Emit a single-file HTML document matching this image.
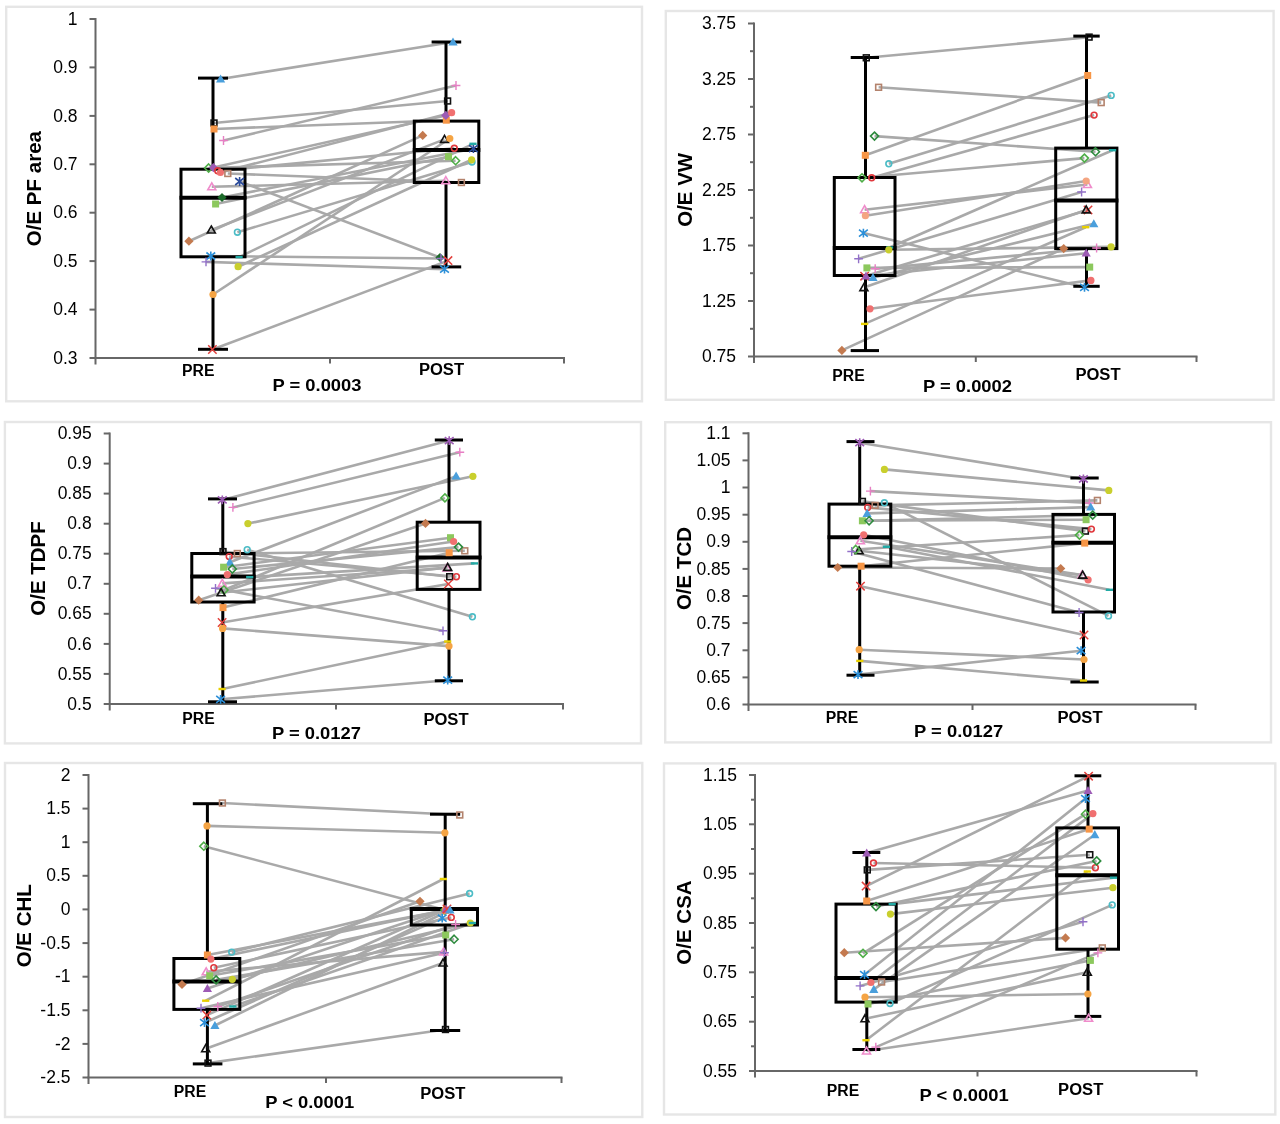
<!DOCTYPE html>
<html><head><meta charset="utf-8"><title>Box plots</title>
<style>
html,body{margin:0;padding:0;background:#fff;}
body{width:1280px;height:1124px;overflow:hidden;}
svg{display:block;will-change:transform;}
.tk{font-family:"Liberation Sans", Arial, sans-serif;font-size:17.5px;fill:#000;}
.cat{font-family:"Liberation Sans", Arial, sans-serif;font-size:16.8px;font-weight:bold;fill:#000;}
.pv{font-family:"Liberation Sans", Arial, sans-serif;font-size:17px;font-weight:bold;fill:#000;}
.ttl{font-family:"Liberation Sans", Arial, sans-serif;font-size:20.5px;font-weight:bold;fill:#000;}
</style></head><body>
<svg width="1280" height="1124" viewBox="0 0 1280 1124">
<rect x="0" y="0" width="1280" height="1124" fill="#fff"/>
<rect x="6.2" y="6.8" width="635.8" height="394.5" fill="#fff" stroke="#e6e6e6" stroke-width="2.4"/>
<line x1="89.5" y1="358.0" x2="95.5" y2="358.0" stroke="#676767" stroke-width="2"/>
<text x="77.5" y="363.6" class="tk" text-anchor="end">0.3</text>
<line x1="89.5" y1="309.6" x2="95.5" y2="309.6" stroke="#676767" stroke-width="2"/>
<text x="77.5" y="315.2" class="tk" text-anchor="end">0.4</text>
<line x1="89.5" y1="261.1" x2="95.5" y2="261.1" stroke="#676767" stroke-width="2"/>
<text x="77.5" y="266.7" class="tk" text-anchor="end">0.5</text>
<line x1="89.5" y1="212.7" x2="95.5" y2="212.7" stroke="#676767" stroke-width="2"/>
<text x="77.5" y="218.3" class="tk" text-anchor="end">0.6</text>
<line x1="89.5" y1="164.3" x2="95.5" y2="164.3" stroke="#676767" stroke-width="2"/>
<text x="77.5" y="169.9" class="tk" text-anchor="end">0.7</text>
<line x1="89.5" y1="115.9" x2="95.5" y2="115.9" stroke="#676767" stroke-width="2"/>
<text x="77.5" y="121.5" class="tk" text-anchor="end">0.8</text>
<line x1="89.5" y1="67.4" x2="95.5" y2="67.4" stroke="#676767" stroke-width="2"/>
<text x="77.5" y="73.0" class="tk" text-anchor="end">0.9</text>
<line x1="89.5" y1="19.0" x2="95.5" y2="19.0" stroke="#676767" stroke-width="2"/>
<text x="77.5" y="24.6" class="tk" text-anchor="end">1</text>
<line x1="95.5" y1="18" x2="95.5" y2="364.5" stroke="#676767" stroke-width="2"/>
<line x1="94.5" y1="358" x2="565" y2="358" stroke="#676767" stroke-width="2"/>
<line x1="330" y1="358" x2="330" y2="363.5" stroke="#676767" stroke-width="2"/>
<line x1="564" y1="358" x2="564" y2="363.5" stroke="#676767" stroke-width="2"/>
<line x1="220.6" y1="79" x2="453" y2="42" stroke="#a9a9a9" stroke-width="2.6"/>
<line x1="214" y1="123" x2="447.6" y2="101" stroke="#a9a9a9" stroke-width="2.6"/>
<line x1="214" y1="129" x2="446.3" y2="120.2" stroke="#a9a9a9" stroke-width="2.6"/>
<line x1="223.5" y1="140.5" x2="456" y2="85.5" stroke="#a9a9a9" stroke-width="2.6"/>
<line x1="208.6" y1="168" x2="455.6" y2="160.7" stroke="#a9a9a9" stroke-width="2.6"/>
<line x1="213.4" y1="167.6" x2="445.8" y2="115.4" stroke="#a9a9a9" stroke-width="2.6"/>
<line x1="217.7" y1="170.8" x2="454.3" y2="148.3" stroke="#a9a9a9" stroke-width="2.6"/>
<line x1="220.4" y1="172.4" x2="451.6" y2="112.7" stroke="#a9a9a9" stroke-width="2.6"/>
<line x1="227.8" y1="173.5" x2="461.4" y2="182.5" stroke="#a9a9a9" stroke-width="2.6"/>
<line x1="239.6" y1="181.5" x2="440" y2="257.5" stroke="#a9a9a9" stroke-width="2.6"/>
<line x1="211.8" y1="186.8" x2="445.8" y2="180.7" stroke="#a9a9a9" stroke-width="2.6"/>
<line x1="222" y1="197.5" x2="473.4" y2="148.7" stroke="#a9a9a9" stroke-width="2.6"/>
<line x1="215.6" y1="204" x2="448.5" y2="156.7" stroke="#a9a9a9" stroke-width="2.6"/>
<line x1="211.3" y1="230" x2="444.5" y2="139.4" stroke="#a9a9a9" stroke-width="2.6"/>
<line x1="237.4" y1="232.2" x2="472" y2="162" stroke="#a9a9a9" stroke-width="2.6"/>
<line x1="188.9" y1="241.2" x2="422.7" y2="135.4" stroke="#a9a9a9" stroke-width="2.6"/>
<line x1="210.8" y1="256" x2="441" y2="258.5" stroke="#a9a9a9" stroke-width="2.6"/>
<line x1="206" y1="261.9" x2="444.5" y2="269.2" stroke="#a9a9a9" stroke-width="2.6"/>
<line x1="239.1" y1="257.1" x2="473" y2="143.8" stroke="#a9a9a9" stroke-width="2.6"/>
<line x1="238.1" y1="266.7" x2="471.6" y2="159.8" stroke="#a9a9a9" stroke-width="2.6"/>
<line x1="213" y1="294.5" x2="449.8" y2="138.5" stroke="#a9a9a9" stroke-width="2.6"/>
<line x1="212.4" y1="349.5" x2="448" y2="260.6" stroke="#a9a9a9" stroke-width="2.6"/>
<line x1="213" y1="78.1" x2="213" y2="169.2" stroke="#000" stroke-width="3"/>
<line x1="213" y1="256.8" x2="213" y2="349.3" stroke="#000" stroke-width="3"/>
<line x1="198" y1="78.1" x2="228" y2="78.1" stroke="#000" stroke-width="3"/>
<line x1="198" y1="349.3" x2="228" y2="349.3" stroke="#000" stroke-width="3"/>
<rect x="181" y="169.2" width="64" height="87.60000000000002" fill="none" stroke="#000" stroke-width="3"/>
<line x1="179.5" y1="197.7" x2="246.5" y2="197.7" stroke="#000" stroke-width="4"/>
<line x1="446" y1="42" x2="446" y2="121.1" stroke="#000" stroke-width="3"/>
<line x1="446" y1="182.5" x2="446" y2="266.9" stroke="#000" stroke-width="3"/>
<line x1="431.6" y1="42" x2="461.2" y2="42" stroke="#000" stroke-width="3"/>
<line x1="431.6" y1="266.9" x2="461.2" y2="266.9" stroke="#000" stroke-width="3"/>
<rect x="414.3" y="121.1" width="64.5" height="61.400000000000006" fill="none" stroke="#000" stroke-width="3"/>
<line x1="412.8" y1="150" x2="480.3" y2="150" stroke="#000" stroke-width="4"/>
<path d="M220.6 74.4L225.2 82.5L216.0 82.5Z" fill="#4a9fdc"/>
<path d="M453.0 37.4L457.6 45.5L448.4 45.5Z" fill="#4a9fdc"/>
<rect x="211.1" y="120.1" width="5.8" height="5.8" fill="none" stroke="#111111" stroke-width="1.6"/>
<rect x="444.7" y="98.1" width="5.8" height="5.8" fill="none" stroke="#111111" stroke-width="1.6"/>
<rect x="210.5" y="125.5" width="7.0" height="7.0" fill="#f79646"/>
<rect x="442.8" y="116.7" width="7.0" height="7.0" fill="#f79646"/>
<path d="M219.1 140.5L227.9 140.5M223.5 136.1L223.5 144.9" stroke="#e77fc4" stroke-width="1.4" fill="none"/>
<path d="M451.6 85.5L460.4 85.5M456.0 81.1L456.0 89.9" stroke="#e77fc4" stroke-width="1.4" fill="none"/>
<path d="M208.6 164.0L212.6 168.0L208.6 172.0L204.6 168.0Z" fill="none" stroke="#4fae48" stroke-width="1.6"/>
<path d="M455.6 156.7L459.6 160.7L455.6 164.7L451.6 160.7Z" fill="none" stroke="#4fae48" stroke-width="1.6"/>
<path d="M213.4 163.0L218.0 167.6L213.4 172.2L208.8 167.6Z" fill="#9d5bb5"/>
<path d="M445.8 110.8L450.4 115.4L445.8 120.0L441.2 115.4Z" fill="#9d5bb5"/>
<circle cx="217.7" cy="170.8" r="2.9" fill="none" stroke="#e0383d" stroke-width="1.6"/>
<circle cx="454.3" cy="148.3" r="2.9" fill="none" stroke="#e0383d" stroke-width="1.6"/>
<circle cx="220.4" cy="172.4" r="3.6" fill="#f07070"/>
<circle cx="451.6" cy="112.7" r="3.6" fill="#f07070"/>
<rect x="224.9" y="170.6" width="5.8" height="5.8" fill="none" stroke="#b3826c" stroke-width="1.6"/>
<rect x="458.5" y="179.6" width="5.8" height="5.8" fill="none" stroke="#b3826c" stroke-width="1.6"/>
<path d="M235.2 178.0L244.0 185.0M244.0 178.0L235.2 185.0M239.6 177.1L239.6 185.9" stroke="#2b4c9b" stroke-width="1.6" fill="none"/>
<path d="M440.0 252.9L444.6 257.5L440.0 262.1L435.4 257.5Z" fill="#1d6a2a"/>
<path d="M211.8 182.8L215.8 189.8L207.8 189.8Z" fill="none" stroke="#ef8ccb" stroke-width="1.6"/>
<path d="M445.8 176.7L449.8 183.7L441.8 183.7Z" fill="none" stroke="#ef8ccb" stroke-width="1.6"/>
<path d="M222.0 192.9L226.6 197.5L222.0 202.1L217.4 197.5Z" fill="#1d6a2a"/>
<path d="M469.0 145.2L477.8 152.2M477.8 145.2L469.0 152.2M473.4 144.3L473.4 153.1" stroke="#2b4c9b" stroke-width="1.6" fill="none"/>
<rect x="212.1" y="200.5" width="7.0" height="7.0" fill="#8cc85d"/>
<rect x="445.0" y="153.2" width="7.0" height="7.0" fill="#8cc85d"/>
<path d="M211.3 226.0L215.3 233.0L207.3 233.0Z" fill="none" stroke="#111111" stroke-width="1.6"/>
<path d="M444.5 135.4L448.5 142.4L440.5 142.4Z" fill="none" stroke="#111111" stroke-width="1.6"/>
<circle cx="237.4" cy="232.2" r="2.9" fill="none" stroke="#4cbcc6" stroke-width="1.6"/>
<circle cx="472.0" cy="162.0" r="2.9" fill="none" stroke="#4cbcc6" stroke-width="1.6"/>
<path d="M188.9 236.6L193.5 241.2L188.9 245.8L184.3 241.2Z" fill="#c47a4f"/>
<path d="M422.7 130.8L427.3 135.4L422.7 140.0L418.1 135.4Z" fill="#c47a4f"/>
<path d="M206.4 252.5L215.2 259.5M215.2 252.5L206.4 259.5M210.8 251.6L210.8 260.4" stroke="#2b8fd8" stroke-width="1.6" fill="none"/>
<path d="M436.6 258.5L445.4 258.5M441.0 254.1L441.0 262.9" stroke="#9270c8" stroke-width="1.4" fill="none"/>
<path d="M201.6 261.9L210.4 261.9M206.0 257.5L206.0 266.3" stroke="#9270c8" stroke-width="1.4" fill="none"/>
<path d="M440.1 265.7L448.9 272.7M448.9 265.7L440.1 272.7M444.5 264.8L444.5 273.6" stroke="#2b8fd8" stroke-width="1.6" fill="none"/>
<path d="M235.5 257.1L242.7 257.1" stroke="#22aaa5" stroke-width="2.4" fill="none"/>
<path d="M469.4 143.8L476.6 143.8" stroke="#22aaa5" stroke-width="2.4" fill="none"/>
<circle cx="238.1" cy="266.7" r="3.6" fill="#c9cf2d"/>
<circle cx="471.6" cy="159.8" r="3.6" fill="#c9cf2d"/>
<circle cx="213.0" cy="294.5" r="3.6" fill="#f5a444"/>
<circle cx="449.8" cy="138.5" r="3.6" fill="#f5a444"/>
<path d="M208.2 345.3L216.6 353.7M216.6 345.3L208.2 353.7" stroke="#e2413d" stroke-width="1.5" fill="none"/>
<path d="M443.8 256.4L452.2 264.8M452.2 256.4L443.8 264.8" stroke="#e2413d" stroke-width="1.5" fill="none"/>
<text x="182.1" y="376" class="cat" textLength="32.4" lengthAdjust="spacingAndGlyphs">PRE</text>
<text x="418.9" y="374.7" class="cat" textLength="45.2" lengthAdjust="spacingAndGlyphs">POST</text>
<text x="272.5" y="391" class="pv" textLength="89" lengthAdjust="spacingAndGlyphs">P = 0.0003</text>
<text transform="translate(41,188.6) rotate(-90)" class="ttl" text-anchor="middle">O/E PF area</text>
<rect x="665.8" y="11" width="607.8" height="388.8" fill="#fff" stroke="#e6e6e6" stroke-width="2.4"/>
<line x1="748" y1="356.5" x2="754" y2="356.5" stroke="#676767" stroke-width="2"/>
<text x="736" y="362.1" class="tk" text-anchor="end">0.75</text>
<line x1="750" y1="328.8" x2="754" y2="328.8" stroke="#676767" stroke-width="2"/>
<line x1="748" y1="301.0" x2="754" y2="301.0" stroke="#676767" stroke-width="2"/>
<text x="736" y="306.6" class="tk" text-anchor="end">1.25</text>
<line x1="750" y1="273.2" x2="754" y2="273.2" stroke="#676767" stroke-width="2"/>
<line x1="748" y1="245.5" x2="754" y2="245.5" stroke="#676767" stroke-width="2"/>
<text x="736" y="251.1" class="tk" text-anchor="end">1.75</text>
<line x1="750" y1="217.8" x2="754" y2="217.8" stroke="#676767" stroke-width="2"/>
<line x1="748" y1="190.0" x2="754" y2="190.0" stroke="#676767" stroke-width="2"/>
<text x="736" y="195.6" class="tk" text-anchor="end">2.25</text>
<line x1="750" y1="162.2" x2="754" y2="162.2" stroke="#676767" stroke-width="2"/>
<line x1="748" y1="134.5" x2="754" y2="134.5" stroke="#676767" stroke-width="2"/>
<text x="736" y="140.1" class="tk" text-anchor="end">2.75</text>
<line x1="750" y1="106.8" x2="754" y2="106.8" stroke="#676767" stroke-width="2"/>
<line x1="748" y1="79.0" x2="754" y2="79.0" stroke="#676767" stroke-width="2"/>
<text x="736" y="84.6" class="tk" text-anchor="end">3.25</text>
<line x1="750" y1="51.2" x2="754" y2="51.2" stroke="#676767" stroke-width="2"/>
<line x1="748" y1="23.5" x2="754" y2="23.5" stroke="#676767" stroke-width="2"/>
<text x="736" y="29.1" class="tk" text-anchor="end">3.75</text>
<line x1="754" y1="22.5" x2="754" y2="363.0" stroke="#676767" stroke-width="2"/>
<line x1="753" y1="356.5" x2="1197.5" y2="356.5" stroke="#676767" stroke-width="2"/>
<line x1="975.8" y1="356.5" x2="975.8" y2="362.0" stroke="#676767" stroke-width="2"/>
<line x1="1196.5" y1="356.5" x2="1196.5" y2="362.0" stroke="#676767" stroke-width="2"/>
<line x1="866.3" y1="57.8" x2="1089.1" y2="37.1" stroke="#a9a9a9" stroke-width="2.6"/>
<line x1="878.6" y1="87.3" x2="1101.2" y2="102.6" stroke="#a9a9a9" stroke-width="2.6"/>
<line x1="874.5" y1="136.1" x2="1095.5" y2="151.7" stroke="#a9a9a9" stroke-width="2.6"/>
<line x1="865.3" y1="155.3" x2="1087.7" y2="75.5" stroke="#a9a9a9" stroke-width="2.6"/>
<line x1="888.8" y1="163.8" x2="1111.2" y2="95.4" stroke="#a9a9a9" stroke-width="2.6"/>
<line x1="862" y1="177.8" x2="1084.4" y2="158.1" stroke="#a9a9a9" stroke-width="2.6"/>
<line x1="871.7" y1="177.8" x2="1094.1" y2="115.1" stroke="#a9a9a9" stroke-width="2.6"/>
<line x1="864.6" y1="209.7" x2="1087.4" y2="184.5" stroke="#a9a9a9" stroke-width="2.6"/>
<line x1="865.4" y1="215.7" x2="1086.2" y2="181" stroke="#a9a9a9" stroke-width="2.6"/>
<line x1="863.4" y1="233.1" x2="1084.5" y2="287.3" stroke="#a9a9a9" stroke-width="2.6"/>
<line x1="889.6" y1="247.5" x2="1112.6" y2="150.2" stroke="#a9a9a9" stroke-width="2.6"/>
<line x1="888.8" y1="249.8" x2="1111.1" y2="246.9" stroke="#a9a9a9" stroke-width="2.6"/>
<line x1="858.6" y1="258.8" x2="1081.6" y2="192" stroke="#a9a9a9" stroke-width="2.6"/>
<line x1="866.9" y1="267.9" x2="1089.7" y2="267.1" stroke="#a9a9a9" stroke-width="2.6"/>
<line x1="875.2" y1="268.7" x2="1096.6" y2="248" stroke="#a9a9a9" stroke-width="2.6"/>
<line x1="864.6" y1="276.2" x2="1088" y2="209.9" stroke="#a9a9a9" stroke-width="2.6"/>
<line x1="866" y1="276" x2="1086.2" y2="253.2" stroke="#a9a9a9" stroke-width="2.6"/>
<line x1="873" y1="277.7" x2="1093.8" y2="223.8" stroke="#a9a9a9" stroke-width="2.6"/>
<line x1="863.9" y1="287.6" x2="1086.2" y2="209.9" stroke="#a9a9a9" stroke-width="2.6"/>
<line x1="870" y1="308.8" x2="1090.9" y2="280.4" stroke="#a9a9a9" stroke-width="2.6"/>
<line x1="864.6" y1="323.9" x2="1085.7" y2="227.2" stroke="#a9a9a9" stroke-width="2.6"/>
<line x1="841.9" y1="350.4" x2="1063.7" y2="248.6" stroke="#a9a9a9" stroke-width="2.6"/>
<line x1="865.5" y1="57.5" x2="865.5" y2="177.5" stroke="#000" stroke-width="3"/>
<line x1="865.5" y1="275.5" x2="865.5" y2="350.6" stroke="#000" stroke-width="3"/>
<line x1="850.7" y1="57.5" x2="879" y2="57.5" stroke="#000" stroke-width="3"/>
<line x1="850.7" y1="350.6" x2="879" y2="350.6" stroke="#000" stroke-width="3"/>
<rect x="834.3" y="177.5" width="60.700000000000045" height="98.0" fill="none" stroke="#000" stroke-width="3"/>
<line x1="832.8" y1="248" x2="896.5" y2="248" stroke="#000" stroke-width="4"/>
<line x1="1086.5" y1="36.1" x2="1086.5" y2="148.1" stroke="#000" stroke-width="3"/>
<line x1="1086.5" y1="248.6" x2="1086.5" y2="286.3" stroke="#000" stroke-width="3"/>
<line x1="1073.3" y1="36.1" x2="1099.7" y2="36.1" stroke="#000" stroke-width="3"/>
<line x1="1073.3" y1="286.3" x2="1099.7" y2="286.3" stroke="#000" stroke-width="3"/>
<rect x="1055.7" y="148.1" width="61.200000000000045" height="100.5" fill="none" stroke="#000" stroke-width="3"/>
<line x1="1054.2" y1="200.6" x2="1118.4" y2="200.6" stroke="#000" stroke-width="4"/>
<rect x="863.4" y="54.9" width="5.8" height="5.8" fill="none" stroke="#111111" stroke-width="1.6"/>
<rect x="1086.2" y="34.2" width="5.8" height="5.8" fill="none" stroke="#111111" stroke-width="1.6"/>
<rect x="875.7" y="84.4" width="5.8" height="5.8" fill="none" stroke="#b3826c" stroke-width="1.6"/>
<rect x="1098.3" y="99.7" width="5.8" height="5.8" fill="none" stroke="#b3826c" stroke-width="1.6"/>
<path d="M874.5 132.1L878.5 136.1L874.5 140.1L870.5 136.1Z" fill="none" stroke="#2e8b3e" stroke-width="1.6"/>
<path d="M1095.5 147.7L1099.5 151.7L1095.5 155.7L1091.5 151.7Z" fill="none" stroke="#2e8b3e" stroke-width="1.6"/>
<rect x="861.8" y="151.8" width="7.0" height="7.0" fill="#f79646"/>
<rect x="1084.2" y="72.0" width="7.0" height="7.0" fill="#f79646"/>
<circle cx="888.8" cy="163.8" r="2.9" fill="none" stroke="#4cbcc6" stroke-width="1.6"/>
<circle cx="1111.2" cy="95.4" r="2.9" fill="none" stroke="#4cbcc6" stroke-width="1.6"/>
<path d="M862.0 173.8L866.0 177.8L862.0 181.8L858.0 177.8Z" fill="none" stroke="#4fae48" stroke-width="1.6"/>
<path d="M1084.4 154.1L1088.4 158.1L1084.4 162.1L1080.4 158.1Z" fill="none" stroke="#4fae48" stroke-width="1.6"/>
<circle cx="871.7" cy="177.8" r="2.9" fill="none" stroke="#e0383d" stroke-width="1.6"/>
<circle cx="1094.1" cy="115.1" r="2.9" fill="none" stroke="#e0383d" stroke-width="1.6"/>
<path d="M864.6 205.7L868.6 212.7L860.6 212.7Z" fill="none" stroke="#ef8ccb" stroke-width="1.6"/>
<path d="M1087.4 180.5L1091.4 187.5L1083.4 187.5Z" fill="none" stroke="#ef8ccb" stroke-width="1.6"/>
<circle cx="865.4" cy="215.7" r="3.6" fill="#f4a582"/>
<circle cx="1086.2" cy="181.0" r="3.6" fill="#f4a582"/>
<path d="M859.0 229.6L867.8 236.6M867.8 229.6L859.0 236.6M863.4 228.7L863.4 237.5" stroke="#2b8fd8" stroke-width="1.6" fill="none"/>
<path d="M1080.1 283.8L1088.9 290.8M1088.9 283.8L1080.1 290.8M1084.5 282.9L1084.5 291.7" stroke="#2b8fd8" stroke-width="1.6" fill="none"/>
<path d="M886.0 247.5L893.2 247.5" stroke="#22aaa5" stroke-width="2.4" fill="none"/>
<path d="M1109.0 150.2L1116.2 150.2" stroke="#22aaa5" stroke-width="2.4" fill="none"/>
<circle cx="888.8" cy="249.8" r="3.6" fill="#c9cf2d"/>
<circle cx="1111.1" cy="246.9" r="3.6" fill="#c9cf2d"/>
<path d="M854.2 258.8L863.0 258.8M858.6 254.4L858.6 263.2" stroke="#9270c8" stroke-width="1.4" fill="none"/>
<path d="M1077.2 192.0L1086.0 192.0M1081.6 187.6L1081.6 196.4" stroke="#9270c8" stroke-width="1.4" fill="none"/>
<rect x="863.4" y="264.4" width="7.0" height="7.0" fill="#8cc85d"/>
<rect x="1086.2" y="263.6" width="7.0" height="7.0" fill="#8cc85d"/>
<path d="M870.8 268.7L879.6 268.7M875.2 264.3L875.2 273.1" stroke="#e77fc4" stroke-width="1.4" fill="none"/>
<path d="M1092.2 248.0L1101.0 248.0M1096.6 243.6L1096.6 252.4" stroke="#e77fc4" stroke-width="1.4" fill="none"/>
<path d="M860.4 272.0L868.8 280.4M868.8 272.0L860.4 280.4" stroke="#e2413d" stroke-width="1.5" fill="none"/>
<path d="M1083.8 205.7L1092.2 214.1M1092.2 205.7L1083.8 214.1" stroke="#e2413d" stroke-width="1.5" fill="none"/>
<path d="M866.0 271.4L870.6 279.4L861.4 279.4Z" fill="#9d5bb5"/>
<path d="M1086.2 248.6L1090.8 256.6L1081.6 256.6Z" fill="#9d5bb5"/>
<path d="M873.0 273.1L877.6 281.1L868.4 281.1Z" fill="#4a9fdc"/>
<path d="M1093.8 219.2L1098.4 227.2L1089.2 227.2Z" fill="#4a9fdc"/>
<path d="M863.9 283.6L867.9 290.6L859.9 290.6Z" fill="none" stroke="#111111" stroke-width="1.6"/>
<path d="M1086.2 205.9L1090.2 212.9L1082.2 212.9Z" fill="none" stroke="#111111" stroke-width="1.6"/>
<circle cx="870.0" cy="308.8" r="3.6" fill="#f07070"/>
<circle cx="1090.9" cy="280.4" r="3.6" fill="#f07070"/>
<path d="M861.0 323.9L868.2 323.9" stroke="#e8d000" stroke-width="2.4" fill="none"/>
<path d="M1082.1 227.2L1089.3 227.2" stroke="#e8d000" stroke-width="2.4" fill="none"/>
<path d="M841.9 345.8L846.5 350.4L841.9 355.0L837.3 350.4Z" fill="#c47a4f"/>
<path d="M1063.7 244.0L1068.3 248.6L1063.7 253.2L1059.1 248.6Z" fill="#c47a4f"/>
<text x="832.3" y="381" class="cat" textLength="32.4" lengthAdjust="spacingAndGlyphs">PRE</text>
<text x="1075.4" y="380.2" class="cat" textLength="45.2" lengthAdjust="spacingAndGlyphs">POST</text>
<text x="923.0" y="392" class="pv" textLength="89" lengthAdjust="spacingAndGlyphs">P = 0.0002</text>
<text transform="translate(691.5,189.8) rotate(-90)" class="ttl" text-anchor="middle">O/E VW</text>
<rect x="4.9" y="422" width="636.1" height="321.4" fill="#fff" stroke="#e6e6e6" stroke-width="2.4"/>
<line x1="103.7" y1="704.0" x2="109.7" y2="704.0" stroke="#676767" stroke-width="2"/>
<text x="91.7" y="709.6" class="tk" text-anchor="end">0.5</text>
<line x1="103.7" y1="673.9" x2="109.7" y2="673.9" stroke="#676767" stroke-width="2"/>
<text x="91.7" y="679.5" class="tk" text-anchor="end">0.55</text>
<line x1="103.7" y1="643.9" x2="109.7" y2="643.9" stroke="#676767" stroke-width="2"/>
<text x="91.7" y="649.5" class="tk" text-anchor="end">0.6</text>
<line x1="103.7" y1="613.8" x2="109.7" y2="613.8" stroke="#676767" stroke-width="2"/>
<text x="91.7" y="619.4" class="tk" text-anchor="end">0.65</text>
<line x1="103.7" y1="583.8" x2="109.7" y2="583.8" stroke="#676767" stroke-width="2"/>
<text x="91.7" y="589.4" class="tk" text-anchor="end">0.7</text>
<line x1="103.7" y1="553.7" x2="109.7" y2="553.7" stroke="#676767" stroke-width="2"/>
<text x="91.7" y="559.3" class="tk" text-anchor="end">0.75</text>
<line x1="103.7" y1="523.7" x2="109.7" y2="523.7" stroke="#676767" stroke-width="2"/>
<text x="91.7" y="529.3" class="tk" text-anchor="end">0.8</text>
<line x1="103.7" y1="493.6" x2="109.7" y2="493.6" stroke="#676767" stroke-width="2"/>
<text x="91.7" y="499.2" class="tk" text-anchor="end">0.85</text>
<line x1="103.7" y1="463.6" x2="109.7" y2="463.6" stroke="#676767" stroke-width="2"/>
<text x="91.7" y="469.2" class="tk" text-anchor="end">0.9</text>
<line x1="103.7" y1="433.5" x2="109.7" y2="433.5" stroke="#676767" stroke-width="2"/>
<text x="91.7" y="439.1" class="tk" text-anchor="end">0.95</text>
<line x1="109.7" y1="432.5" x2="109.7" y2="710.5" stroke="#676767" stroke-width="2"/>
<line x1="108.7" y1="704" x2="564" y2="704" stroke="#676767" stroke-width="2"/>
<line x1="336" y1="704" x2="336" y2="709.5" stroke="#676767" stroke-width="2"/>
<line x1="563" y1="704" x2="563" y2="709.5" stroke="#676767" stroke-width="2"/>
<line x1="222.3" y1="499.9" x2="449.2" y2="440.6" stroke="#a9a9a9" stroke-width="2.6"/>
<line x1="232.9" y1="507.4" x2="459.8" y2="452.2" stroke="#a9a9a9" stroke-width="2.6"/>
<line x1="247.9" y1="523.6" x2="472.9" y2="476.3" stroke="#a9a9a9" stroke-width="2.6"/>
<line x1="223" y1="551.6" x2="449.7" y2="576.7" stroke="#a9a9a9" stroke-width="2.6"/>
<line x1="247.2" y1="549.7" x2="472.4" y2="616.8" stroke="#a9a9a9" stroke-width="2.6"/>
<line x1="237.3" y1="553.5" x2="464.8" y2="550.8" stroke="#a9a9a9" stroke-width="2.6"/>
<line x1="229.2" y1="556.6" x2="456.4" y2="576.7" stroke="#a9a9a9" stroke-width="2.6"/>
<line x1="229.8" y1="562.2" x2="456.1" y2="476.1" stroke="#a9a9a9" stroke-width="2.6"/>
<line x1="223.6" y1="567.2" x2="450.5" y2="537.7" stroke="#a9a9a9" stroke-width="2.6"/>
<line x1="232.3" y1="569" x2="458.5" y2="547.1" stroke="#a9a9a9" stroke-width="2.6"/>
<line x1="227.3" y1="574.6" x2="453.6" y2="541.5" stroke="#a9a9a9" stroke-width="2.6"/>
<line x1="249.7" y1="577.1" x2="474.4" y2="563.4" stroke="#a9a9a9" stroke-width="2.6"/>
<line x1="222.3" y1="583.4" x2="447" y2="568" stroke="#a9a9a9" stroke-width="2.6"/>
<line x1="215.5" y1="588.3" x2="443" y2="630.8" stroke="#a9a9a9" stroke-width="2.6"/>
<line x1="224" y1="590" x2="444.9" y2="497.9" stroke="#a9a9a9" stroke-width="2.6"/>
<line x1="221.1" y1="592.7" x2="447.7" y2="567.4" stroke="#a9a9a9" stroke-width="2.6"/>
<line x1="198.7" y1="600.2" x2="425.5" y2="523.4" stroke="#a9a9a9" stroke-width="2.6"/>
<line x1="223" y1="607.6" x2="449.2" y2="552.7" stroke="#a9a9a9" stroke-width="2.6"/>
<line x1="222.1" y1="622.5" x2="448.4" y2="584" stroke="#a9a9a9" stroke-width="2.6"/>
<line x1="222.6" y1="628.4" x2="449" y2="646.1" stroke="#a9a9a9" stroke-width="2.6"/>
<line x1="222.1" y1="689" x2="447.7" y2="641.5" stroke="#a9a9a9" stroke-width="2.6"/>
<line x1="220.6" y1="699.3" x2="447.7" y2="680.2" stroke="#a9a9a9" stroke-width="2.6"/>
<line x1="222.8" y1="498.9" x2="222.8" y2="553.5" stroke="#000" stroke-width="3"/>
<line x1="222.8" y1="602" x2="222.8" y2="701.8" stroke="#000" stroke-width="3"/>
<line x1="208" y1="498.9" x2="237" y2="498.9" stroke="#000" stroke-width="3"/>
<line x1="208" y1="701.8" x2="237" y2="701.8" stroke="#000" stroke-width="3"/>
<rect x="191.8" y="553.5" width="62.29999999999998" height="48.5" fill="none" stroke="#000" stroke-width="3"/>
<line x1="190.3" y1="576.5" x2="255.6" y2="576.5" stroke="#000" stroke-width="4"/>
<line x1="449" y1="440" x2="449" y2="522.2" stroke="#000" stroke-width="3"/>
<line x1="449" y1="589.4" x2="449" y2="680.8" stroke="#000" stroke-width="3"/>
<line x1="434.8" y1="440" x2="463" y2="440" stroke="#000" stroke-width="3"/>
<line x1="434.8" y1="680.8" x2="463" y2="680.8" stroke="#000" stroke-width="3"/>
<rect x="417.2" y="522.2" width="62.80000000000001" height="67.19999999999993" fill="none" stroke="#000" stroke-width="3"/>
<line x1="415.7" y1="557.6" x2="481.5" y2="557.6" stroke="#000" stroke-width="4"/>
<path d="M217.9 496.4L226.7 503.4M226.7 496.4L217.9 503.4M222.3 495.5L222.3 504.3" stroke="#9d5bb5" stroke-width="1.6" fill="none"/>
<path d="M444.8 437.1L453.6 444.1M453.6 437.1L444.8 444.1M449.2 436.2L449.2 445.0" stroke="#9d5bb5" stroke-width="1.6" fill="none"/>
<path d="M228.5 507.4L237.3 507.4M232.9 503.0L232.9 511.8" stroke="#e77fc4" stroke-width="1.4" fill="none"/>
<path d="M455.4 452.2L464.2 452.2M459.8 447.8L459.8 456.6" stroke="#e77fc4" stroke-width="1.4" fill="none"/>
<circle cx="247.9" cy="523.6" r="3.6" fill="#c9cf2d"/>
<circle cx="472.9" cy="476.3" r="3.6" fill="#c9cf2d"/>
<rect x="220.1" y="548.7" width="5.8" height="5.8" fill="none" stroke="#111111" stroke-width="1.6"/>
<rect x="446.8" y="573.8" width="5.8" height="5.8" fill="none" stroke="#111111" stroke-width="1.6"/>
<circle cx="247.2" cy="549.7" r="2.9" fill="none" stroke="#4cbcc6" stroke-width="1.6"/>
<circle cx="472.4" cy="616.8" r="2.9" fill="none" stroke="#4cbcc6" stroke-width="1.6"/>
<rect x="234.4" y="550.6" width="5.8" height="5.8" fill="none" stroke="#b3826c" stroke-width="1.6"/>
<rect x="461.9" y="547.9" width="5.8" height="5.8" fill="none" stroke="#b3826c" stroke-width="1.6"/>
<circle cx="229.2" cy="556.6" r="2.9" fill="none" stroke="#e0383d" stroke-width="1.6"/>
<circle cx="456.4" cy="576.7" r="2.9" fill="none" stroke="#e0383d" stroke-width="1.6"/>
<path d="M229.8 557.6L234.4 565.7L225.2 565.7Z" fill="#4a9fdc"/>
<path d="M456.1 471.5L460.7 479.6L451.5 479.6Z" fill="#4a9fdc"/>
<rect x="220.1" y="563.7" width="7.0" height="7.0" fill="#8cc85d"/>
<rect x="447.0" y="534.2" width="7.0" height="7.0" fill="#8cc85d"/>
<path d="M232.3 565.0L236.3 569.0L232.3 573.0L228.3 569.0Z" fill="none" stroke="#2e8b3e" stroke-width="1.6"/>
<path d="M458.5 543.1L462.5 547.1L458.5 551.1L454.5 547.1Z" fill="none" stroke="#2e8b3e" stroke-width="1.6"/>
<circle cx="227.3" cy="574.6" r="3.6" fill="#f07070"/>
<circle cx="453.6" cy="541.5" r="3.6" fill="#f07070"/>
<path d="M246.1 577.1L253.3 577.1" stroke="#22aaa5" stroke-width="2.4" fill="none"/>
<path d="M470.8 563.4L478.0 563.4" stroke="#22aaa5" stroke-width="2.4" fill="none"/>
<path d="M222.3 579.4L226.3 586.4L218.3 586.4Z" fill="none" stroke="#ef8ccb" stroke-width="1.6"/>
<path d="M447.0 564.0L451.0 571.0L443.0 571.0Z" fill="none" stroke="#ef8ccb" stroke-width="1.6"/>
<path d="M211.1 588.3L219.9 588.3M215.5 583.9L215.5 592.7" stroke="#9270c8" stroke-width="1.4" fill="none"/>
<path d="M438.6 630.8L447.4 630.8M443.0 626.4L443.0 635.2" stroke="#9270c8" stroke-width="1.4" fill="none"/>
<path d="M224.0 586.0L228.0 590.0L224.0 594.0L220.0 590.0Z" fill="none" stroke="#4fae48" stroke-width="1.6"/>
<path d="M444.9 493.9L448.9 497.9L444.9 501.9L440.9 497.9Z" fill="none" stroke="#4fae48" stroke-width="1.6"/>
<path d="M221.1 588.7L225.1 595.7L217.1 595.7Z" fill="none" stroke="#111111" stroke-width="1.6"/>
<path d="M447.7 563.4L451.7 570.4L443.7 570.4Z" fill="none" stroke="#111111" stroke-width="1.6"/>
<path d="M198.7 595.6L203.3 600.2L198.7 604.8L194.1 600.2Z" fill="#c47a4f"/>
<path d="M425.5 518.8L430.1 523.4L425.5 528.0L420.9 523.4Z" fill="#c47a4f"/>
<rect x="219.5" y="604.1" width="7.0" height="7.0" fill="#f79646"/>
<rect x="445.7" y="549.2" width="7.0" height="7.0" fill="#f79646"/>
<path d="M217.9 618.3L226.3 626.7M226.3 618.3L217.9 626.7" stroke="#e2413d" stroke-width="1.5" fill="none"/>
<path d="M444.2 579.8L452.6 588.2M452.6 579.8L444.2 588.2" stroke="#e2413d" stroke-width="1.5" fill="none"/>
<circle cx="222.6" cy="628.4" r="3.6" fill="#f5a444"/>
<circle cx="449.0" cy="646.1" r="3.6" fill="#f5a444"/>
<path d="M218.5 689.0L225.7 689.0" stroke="#e8d000" stroke-width="2.4" fill="none"/>
<path d="M444.1 641.5L451.3 641.5" stroke="#e8d000" stroke-width="2.4" fill="none"/>
<path d="M216.2 695.8L225.0 702.8M225.0 695.8L216.2 702.8M220.6 694.9L220.6 703.7" stroke="#2b8fd8" stroke-width="1.6" fill="none"/>
<path d="M443.3 676.7L452.1 683.7M452.1 676.7L443.3 683.7M447.7 675.8L447.7 684.6" stroke="#2b8fd8" stroke-width="1.6" fill="none"/>
<text x="182.3" y="724" class="cat" textLength="32.4" lengthAdjust="spacingAndGlyphs">PRE</text>
<text x="423.4" y="725.4" class="cat" textLength="45.2" lengthAdjust="spacingAndGlyphs">POST</text>
<text x="271.9" y="739.4" class="pv" textLength="89" lengthAdjust="spacingAndGlyphs">P = 0.0127</text>
<text transform="translate(44.8,568.5) rotate(-90)" class="ttl" text-anchor="middle">O/E TDPF</text>
<rect x="665.2" y="422.2" width="605.8" height="320.2" fill="#fff" stroke="#e6e6e6" stroke-width="2.4"/>
<line x1="742.5" y1="704.5" x2="748.5" y2="704.5" stroke="#676767" stroke-width="2"/>
<text x="730.5" y="710.1" class="tk" text-anchor="end">0.6</text>
<line x1="742.5" y1="677.4" x2="748.5" y2="677.4" stroke="#676767" stroke-width="2"/>
<text x="730.5" y="683.0" class="tk" text-anchor="end">0.65</text>
<line x1="742.5" y1="650.3" x2="748.5" y2="650.3" stroke="#676767" stroke-width="2"/>
<text x="730.5" y="655.9" class="tk" text-anchor="end">0.7</text>
<line x1="742.5" y1="623.1" x2="748.5" y2="623.1" stroke="#676767" stroke-width="2"/>
<text x="730.5" y="628.7" class="tk" text-anchor="end">0.75</text>
<line x1="742.5" y1="596.0" x2="748.5" y2="596.0" stroke="#676767" stroke-width="2"/>
<text x="730.5" y="601.6" class="tk" text-anchor="end">0.8</text>
<line x1="742.5" y1="568.9" x2="748.5" y2="568.9" stroke="#676767" stroke-width="2"/>
<text x="730.5" y="574.5" class="tk" text-anchor="end">0.85</text>
<line x1="742.5" y1="541.8" x2="748.5" y2="541.8" stroke="#676767" stroke-width="2"/>
<text x="730.5" y="547.4" class="tk" text-anchor="end">0.9</text>
<line x1="742.5" y1="514.7" x2="748.5" y2="514.7" stroke="#676767" stroke-width="2"/>
<text x="730.5" y="520.3" class="tk" text-anchor="end">0.95</text>
<line x1="742.5" y1="487.5" x2="748.5" y2="487.5" stroke="#676767" stroke-width="2"/>
<text x="730.5" y="493.1" class="tk" text-anchor="end">1</text>
<line x1="742.5" y1="460.4" x2="748.5" y2="460.4" stroke="#676767" stroke-width="2"/>
<text x="730.5" y="466.0" class="tk" text-anchor="end">1.05</text>
<line x1="742.5" y1="433.3" x2="748.5" y2="433.3" stroke="#676767" stroke-width="2"/>
<text x="730.5" y="438.9" class="tk" text-anchor="end">1.1</text>
<line x1="748.5" y1="432.3" x2="748.5" y2="711.0" stroke="#676767" stroke-width="2"/>
<line x1="747.5" y1="704.5" x2="1196.5" y2="704.5" stroke="#676767" stroke-width="2"/>
<line x1="972.5" y1="704.5" x2="972.5" y2="710.0" stroke="#676767" stroke-width="2"/>
<line x1="1195.5" y1="704.5" x2="1195.5" y2="710.0" stroke="#676767" stroke-width="2"/>
<line x1="859.7" y1="442.7" x2="1083.4" y2="479" stroke="#a9a9a9" stroke-width="2.6"/>
<line x1="884.4" y1="469.4" x2="1108.8" y2="490.4" stroke="#a9a9a9" stroke-width="2.6"/>
<line x1="870.4" y1="491.1" x2="1089.4" y2="503" stroke="#a9a9a9" stroke-width="2.6"/>
<line x1="862.4" y1="501.4" x2="1085.4" y2="531.1" stroke="#a9a9a9" stroke-width="2.6"/>
<line x1="884.4" y1="502.8" x2="1108.5" y2="615.9" stroke="#a9a9a9" stroke-width="2.6"/>
<line x1="875.1" y1="505.4" x2="1097.4" y2="500.4" stroke="#a9a9a9" stroke-width="2.6"/>
<line x1="867.7" y1="507.4" x2="1091.4" y2="529.1" stroke="#a9a9a9" stroke-width="2.6"/>
<line x1="867.1" y1="513.4" x2="1090.7" y2="507.1" stroke="#a9a9a9" stroke-width="2.6"/>
<line x1="862.4" y1="520.8" x2="1086.1" y2="519.7" stroke="#a9a9a9" stroke-width="2.6"/>
<line x1="869.1" y1="520.8" x2="1092.7" y2="515.1" stroke="#a9a9a9" stroke-width="2.6"/>
<line x1="863.7" y1="534.8" x2="1088.1" y2="579.8" stroke="#a9a9a9" stroke-width="2.6"/>
<line x1="860.4" y1="540.8" x2="1082" y2="575" stroke="#a9a9a9" stroke-width="2.6"/>
<line x1="886.4" y1="546.8" x2="1109.4" y2="589.8" stroke="#a9a9a9" stroke-width="2.6"/>
<line x1="859.1" y1="550.8" x2="1082.7" y2="575.1" stroke="#a9a9a9" stroke-width="2.6"/>
<line x1="855.7" y1="549.5" x2="1079.4" y2="535.1" stroke="#a9a9a9" stroke-width="2.6"/>
<line x1="851.7" y1="551.5" x2="1079.1" y2="612.5" stroke="#a9a9a9" stroke-width="2.6"/>
<line x1="837.7" y1="567.5" x2="1060.7" y2="568.5" stroke="#a9a9a9" stroke-width="2.6"/>
<line x1="861.1" y1="566.2" x2="1084.7" y2="543.1" stroke="#a9a9a9" stroke-width="2.6"/>
<line x1="860.5" y1="586.2" x2="1084" y2="635" stroke="#a9a9a9" stroke-width="2.6"/>
<line x1="859.2" y1="649.7" x2="1084" y2="659.5" stroke="#a9a9a9" stroke-width="2.6"/>
<line x1="859.8" y1="660.9" x2="1083.5" y2="680.5" stroke="#a9a9a9" stroke-width="2.6"/>
<line x1="858" y1="674.6" x2="1081.1" y2="650.7" stroke="#a9a9a9" stroke-width="2.6"/>
<line x1="859.7" y1="441.6" x2="859.7" y2="504.1" stroke="#000" stroke-width="3"/>
<line x1="859.7" y1="566.2" x2="859.7" y2="675.2" stroke="#000" stroke-width="3"/>
<line x1="846.5" y1="441.6" x2="874.5" y2="441.6" stroke="#000" stroke-width="3"/>
<line x1="846.5" y1="675.2" x2="874.5" y2="675.2" stroke="#000" stroke-width="3"/>
<rect x="829" y="504.1" width="61.799999999999955" height="62.10000000000002" fill="none" stroke="#000" stroke-width="3"/>
<line x1="827.5" y1="537.2" x2="892.3" y2="537.2" stroke="#000" stroke-width="4"/>
<line x1="1083.5" y1="478" x2="1083.5" y2="514.4" stroke="#000" stroke-width="3"/>
<line x1="1083.5" y1="612" x2="1083.5" y2="682" stroke="#000" stroke-width="3"/>
<line x1="1070.4" y1="478" x2="1098.7" y2="478" stroke="#000" stroke-width="3"/>
<line x1="1070.4" y1="682" x2="1098.7" y2="682" stroke="#000" stroke-width="3"/>
<rect x="1053" y="514.4" width="61.5" height="97.60000000000002" fill="none" stroke="#000" stroke-width="3"/>
<line x1="1051.5" y1="542.8" x2="1116.0" y2="542.8" stroke="#000" stroke-width="4"/>
<path d="M855.3 439.2L864.1 446.2M864.1 439.2L855.3 446.2M859.7 438.3L859.7 447.1" stroke="#9d5bb5" stroke-width="1.6" fill="none"/>
<path d="M1079.0 475.5L1087.8 482.5M1087.8 475.5L1079.0 482.5M1083.4 474.6L1083.4 483.4" stroke="#9d5bb5" stroke-width="1.6" fill="none"/>
<circle cx="884.4" cy="469.4" r="3.6" fill="#c9cf2d"/>
<circle cx="1108.8" cy="490.4" r="3.6" fill="#c9cf2d"/>
<path d="M866.0 491.1L874.8 491.1M870.4 486.7L870.4 495.5" stroke="#e77fc4" stroke-width="1.4" fill="none"/>
<path d="M1085.0 503.0L1093.8 503.0M1089.4 498.6L1089.4 507.4" stroke="#e77fc4" stroke-width="1.4" fill="none"/>
<rect x="859.5" y="498.5" width="5.8" height="5.8" fill="none" stroke="#111111" stroke-width="1.6"/>
<rect x="1082.5" y="528.2" width="5.8" height="5.8" fill="none" stroke="#111111" stroke-width="1.6"/>
<circle cx="884.4" cy="502.8" r="2.9" fill="none" stroke="#4cbcc6" stroke-width="1.6"/>
<circle cx="1108.5" cy="615.9" r="2.9" fill="none" stroke="#4cbcc6" stroke-width="1.6"/>
<rect x="872.2" y="502.5" width="5.8" height="5.8" fill="none" stroke="#b3826c" stroke-width="1.6"/>
<rect x="1094.5" y="497.5" width="5.8" height="5.8" fill="none" stroke="#b3826c" stroke-width="1.6"/>
<circle cx="867.7" cy="507.4" r="2.9" fill="none" stroke="#e0383d" stroke-width="1.6"/>
<circle cx="1091.4" cy="529.1" r="2.9" fill="none" stroke="#e0383d" stroke-width="1.6"/>
<path d="M867.1 508.8L871.7 516.9L862.5 516.9Z" fill="#4a9fdc"/>
<path d="M1090.7 502.5L1095.3 510.6L1086.1 510.6Z" fill="#4a9fdc"/>
<rect x="858.9" y="517.3" width="7.0" height="7.0" fill="#8cc85d"/>
<rect x="1082.6" y="516.2" width="7.0" height="7.0" fill="#8cc85d"/>
<path d="M869.1 516.8L873.1 520.8L869.1 524.8L865.1 520.8Z" fill="none" stroke="#2e8b3e" stroke-width="1.6"/>
<path d="M1092.7 511.1L1096.7 515.1L1092.7 519.1L1088.7 515.1Z" fill="none" stroke="#2e8b3e" stroke-width="1.6"/>
<circle cx="863.7" cy="534.8" r="3.6" fill="#f07070"/>
<circle cx="1088.1" cy="579.8" r="3.6" fill="#f07070"/>
<path d="M860.4 536.8L864.4 543.8L856.4 543.8Z" fill="none" stroke="#ef8ccb" stroke-width="1.6"/>
<path d="M1082.0 571.0L1086.0 578.0L1078.0 578.0Z" fill="none" stroke="#ef8ccb" stroke-width="1.6"/>
<path d="M882.8 546.8L890.0 546.8" stroke="#22aaa5" stroke-width="2.4" fill="none"/>
<path d="M1105.8 589.8L1113.0 589.8" stroke="#22aaa5" stroke-width="2.4" fill="none"/>
<path d="M859.1 546.8L863.1 553.8L855.1 553.8Z" fill="none" stroke="#111111" stroke-width="1.6"/>
<path d="M1082.7 571.1L1086.7 578.1L1078.7 578.1Z" fill="none" stroke="#111111" stroke-width="1.6"/>
<path d="M855.7 545.5L859.7 549.5L855.7 553.5L851.7 549.5Z" fill="none" stroke="#4fae48" stroke-width="1.6"/>
<path d="M1079.4 531.1L1083.4 535.1L1079.4 539.1L1075.4 535.1Z" fill="none" stroke="#4fae48" stroke-width="1.6"/>
<path d="M847.3 551.5L856.1 551.5M851.7 547.1L851.7 555.9" stroke="#9270c8" stroke-width="1.4" fill="none"/>
<path d="M1074.7 612.5L1083.5 612.5M1079.1 608.1L1079.1 616.9" stroke="#9270c8" stroke-width="1.4" fill="none"/>
<path d="M837.7 562.9L842.3 567.5L837.7 572.1L833.1 567.5Z" fill="#c47a4f"/>
<path d="M1060.7 563.9L1065.3 568.5L1060.7 573.1L1056.1 568.5Z" fill="#c47a4f"/>
<rect x="857.6" y="562.7" width="7.0" height="7.0" fill="#f79646"/>
<rect x="1081.2" y="539.6" width="7.0" height="7.0" fill="#f79646"/>
<path d="M856.3 582.0L864.7 590.4M864.7 582.0L856.3 590.4" stroke="#e2413d" stroke-width="1.5" fill="none"/>
<path d="M1079.8 630.8L1088.2 639.2M1088.2 630.8L1079.8 639.2" stroke="#e2413d" stroke-width="1.5" fill="none"/>
<circle cx="859.2" cy="649.7" r="3.6" fill="#f5a444"/>
<circle cx="1084.0" cy="659.5" r="3.6" fill="#f5a444"/>
<path d="M856.2 660.9L863.4 660.9" stroke="#e8d000" stroke-width="2.4" fill="none"/>
<path d="M1079.9 680.5L1087.1 680.5" stroke="#e8d000" stroke-width="2.4" fill="none"/>
<path d="M853.6 671.1L862.4 678.1M862.4 671.1L853.6 678.1M858.0 670.2L858.0 679.0" stroke="#2b8fd8" stroke-width="1.6" fill="none"/>
<path d="M1076.7 647.2L1085.5 654.2M1085.5 647.2L1076.7 654.2M1081.1 646.3L1081.1 655.1" stroke="#2b8fd8" stroke-width="1.6" fill="none"/>
<text x="825.8" y="722.7" class="cat" textLength="32.4" lengthAdjust="spacingAndGlyphs">PRE</text>
<text x="1057.4" y="722.7" class="cat" textLength="45.2" lengthAdjust="spacingAndGlyphs">POST</text>
<text x="914.1" y="737.2" class="pv" textLength="89" lengthAdjust="spacingAndGlyphs">P = 0.0127</text>
<text transform="translate(690.6,568.5) rotate(-90)" class="ttl" text-anchor="middle">O/E TCD</text>
<rect x="5" y="763" width="637.3" height="354" fill="#fff" stroke="#e6e6e6" stroke-width="2.4"/>
<line x1="82.5" y1="1077.5" x2="88.5" y2="1077.5" stroke="#676767" stroke-width="2"/>
<text x="70.5" y="1083.1" class="tk" text-anchor="end">-2.5</text>
<line x1="82.5" y1="1043.9" x2="88.5" y2="1043.9" stroke="#676767" stroke-width="2"/>
<text x="70.5" y="1049.5" class="tk" text-anchor="end">-2</text>
<line x1="82.5" y1="1010.3" x2="88.5" y2="1010.3" stroke="#676767" stroke-width="2"/>
<text x="70.5" y="1015.9" class="tk" text-anchor="end">-1.5</text>
<line x1="82.5" y1="976.7" x2="88.5" y2="976.7" stroke="#676767" stroke-width="2"/>
<text x="70.5" y="982.3" class="tk" text-anchor="end">-1</text>
<line x1="82.5" y1="943.1" x2="88.5" y2="943.1" stroke="#676767" stroke-width="2"/>
<text x="70.5" y="948.7" class="tk" text-anchor="end">-0.5</text>
<line x1="82.5" y1="909.4" x2="88.5" y2="909.4" stroke="#676767" stroke-width="2"/>
<text x="70.5" y="915.0" class="tk" text-anchor="end">0</text>
<line x1="82.5" y1="875.8" x2="88.5" y2="875.8" stroke="#676767" stroke-width="2"/>
<text x="70.5" y="881.4" class="tk" text-anchor="end">0.5</text>
<line x1="82.5" y1="842.2" x2="88.5" y2="842.2" stroke="#676767" stroke-width="2"/>
<text x="70.5" y="847.8" class="tk" text-anchor="end">1</text>
<line x1="82.5" y1="808.6" x2="88.5" y2="808.6" stroke="#676767" stroke-width="2"/>
<text x="70.5" y="814.2" class="tk" text-anchor="end">1.5</text>
<line x1="82.5" y1="775.0" x2="88.5" y2="775.0" stroke="#676767" stroke-width="2"/>
<text x="70.5" y="780.6" class="tk" text-anchor="end">2</text>
<line x1="88.5" y1="774" x2="88.5" y2="1084.0" stroke="#676767" stroke-width="2"/>
<line x1="87.5" y1="1077.5" x2="562.5" y2="1077.5" stroke="#676767" stroke-width="2"/>
<line x1="326" y1="1077.5" x2="326" y2="1083.0" stroke="#676767" stroke-width="2"/>
<line x1="561.5" y1="1077.5" x2="561.5" y2="1083.0" stroke="#676767" stroke-width="2"/>
<line x1="222.4" y1="803" x2="459.8" y2="815" stroke="#a9a9a9" stroke-width="2.6"/>
<line x1="207" y1="825.9" x2="444.9" y2="832.8" stroke="#a9a9a9" stroke-width="2.6"/>
<line x1="203.8" y1="846.2" x2="445" y2="910" stroke="#a9a9a9" stroke-width="2.6"/>
<line x1="231.7" y1="952.1" x2="469.6" y2="893.5" stroke="#a9a9a9" stroke-width="2.6"/>
<line x1="207.4" y1="955" x2="445.7" y2="910.4" stroke="#a9a9a9" stroke-width="2.6"/>
<line x1="210.9" y1="959.1" x2="446" y2="910" stroke="#a9a9a9" stroke-width="2.6"/>
<line x1="213.8" y1="967.7" x2="451.3" y2="917.4" stroke="#a9a9a9" stroke-width="2.6"/>
<line x1="206.2" y1="971.8" x2="443.6" y2="951.9" stroke="#a9a9a9" stroke-width="2.6"/>
<line x1="209.7" y1="975.8" x2="445.7" y2="935" stroke="#a9a9a9" stroke-width="2.6"/>
<line x1="216.1" y1="979.9" x2="454.1" y2="939.2" stroke="#a9a9a9" stroke-width="2.6"/>
<line x1="232.3" y1="979.3" x2="470.3" y2="923" stroke="#a9a9a9" stroke-width="2.6"/>
<line x1="182" y1="984.5" x2="420" y2="901.3" stroke="#a9a9a9" stroke-width="2.6"/>
<line x1="207.4" y1="988.6" x2="446" y2="909" stroke="#a9a9a9" stroke-width="2.6"/>
<line x1="205.7" y1="1000.7" x2="443.4" y2="879" stroke="#a9a9a9" stroke-width="2.6"/>
<line x1="201" y1="1008.2" x2="444.5" y2="952.7" stroke="#a9a9a9" stroke-width="2.6"/>
<line x1="217.8" y1="1006.5" x2="455.6" y2="924.5" stroke="#a9a9a9" stroke-width="2.6"/>
<line x1="232.8" y1="1006.5" x2="472.4" y2="923" stroke="#a9a9a9" stroke-width="2.6"/>
<line x1="206.8" y1="1015.1" x2="447" y2="909" stroke="#a9a9a9" stroke-width="2.6"/>
<line x1="204.5" y1="1022.7" x2="442.2" y2="918.1" stroke="#a9a9a9" stroke-width="2.6"/>
<line x1="214.9" y1="1025.5" x2="450" y2="910" stroke="#a9a9a9" stroke-width="2.6"/>
<line x1="205.7" y1="1048.7" x2="443" y2="963" stroke="#a9a9a9" stroke-width="2.6"/>
<line x1="208" y1="1063.1" x2="445.5" y2="1029.5" stroke="#a9a9a9" stroke-width="2.6"/>
<line x1="207.4" y1="803.7" x2="207.4" y2="958.5" stroke="#000" stroke-width="3"/>
<line x1="207.4" y1="1009.4" x2="207.4" y2="1063.9" stroke="#000" stroke-width="3"/>
<line x1="192.8" y1="803.7" x2="222.4" y2="803.7" stroke="#000" stroke-width="3"/>
<line x1="192.8" y1="1063.9" x2="222.4" y2="1063.9" stroke="#000" stroke-width="3"/>
<rect x="173.9" y="958.5" width="65.9" height="50.89999999999998" fill="none" stroke="#000" stroke-width="3"/>
<line x1="172.4" y1="981.6" x2="241.3" y2="981.6" stroke="#000" stroke-width="4"/>
<line x1="445.2" y1="814.2" x2="445.2" y2="909" stroke="#000" stroke-width="3"/>
<line x1="445.2" y1="925" x2="445.2" y2="1030.5" stroke="#000" stroke-width="3"/>
<line x1="430" y1="814.2" x2="460.2" y2="814.2" stroke="#000" stroke-width="3"/>
<line x1="430" y1="1030.5" x2="460.2" y2="1030.5" stroke="#000" stroke-width="3"/>
<rect x="411.3" y="909" width="66.19999999999999" height="16" fill="none" stroke="#000" stroke-width="3"/>
<line x1="409.8" y1="909" x2="479.0" y2="909" stroke="#000" stroke-width="4"/>
<rect x="219.5" y="800.1" width="5.8" height="5.8" fill="none" stroke="#b3826c" stroke-width="1.6"/>
<rect x="456.9" y="812.1" width="5.8" height="5.8" fill="none" stroke="#b3826c" stroke-width="1.6"/>
<circle cx="207.0" cy="825.9" r="3.6" fill="#f5a444"/>
<circle cx="444.9" cy="832.8" r="3.6" fill="#f5a444"/>
<path d="M203.8 842.2L207.8 846.2L203.8 850.2L199.8 846.2Z" fill="none" stroke="#4fae48" stroke-width="1.6"/>
<path d="M445.0 906.0L449.0 910.0L445.0 914.0L441.0 910.0Z" fill="none" stroke="#4fae48" stroke-width="1.6"/>
<circle cx="231.7" cy="952.1" r="2.9" fill="none" stroke="#4cbcc6" stroke-width="1.6"/>
<circle cx="469.6" cy="893.5" r="2.9" fill="none" stroke="#4cbcc6" stroke-width="1.6"/>
<rect x="203.9" y="951.5" width="7.0" height="7.0" fill="#f79646"/>
<rect x="442.2" y="906.9" width="7.0" height="7.0" fill="#f79646"/>
<circle cx="210.9" cy="959.1" r="3.6" fill="#f07070"/>
<circle cx="446.0" cy="910.0" r="3.6" fill="#f07070"/>
<circle cx="213.8" cy="967.7" r="2.9" fill="none" stroke="#e0383d" stroke-width="1.6"/>
<circle cx="451.3" cy="917.4" r="2.9" fill="none" stroke="#e0383d" stroke-width="1.6"/>
<path d="M206.2 967.8L210.2 974.8L202.2 974.8Z" fill="none" stroke="#ef8ccb" stroke-width="1.6"/>
<path d="M443.6 947.9L447.6 954.9L439.6 954.9Z" fill="none" stroke="#ef8ccb" stroke-width="1.6"/>
<rect x="206.2" y="972.3" width="7.0" height="7.0" fill="#8cc85d"/>
<rect x="442.2" y="931.5" width="7.0" height="7.0" fill="#8cc85d"/>
<path d="M216.1 975.9L220.1 979.9L216.1 983.9L212.1 979.9Z" fill="none" stroke="#2e8b3e" stroke-width="1.6"/>
<path d="M454.1 935.2L458.1 939.2L454.1 943.2L450.1 939.2Z" fill="none" stroke="#2e8b3e" stroke-width="1.6"/>
<circle cx="232.3" cy="979.3" r="3.6" fill="#c9cf2d"/>
<circle cx="470.3" cy="923.0" r="3.6" fill="#c9cf2d"/>
<path d="M182.0 979.9L186.6 984.5L182.0 989.1L177.4 984.5Z" fill="#c47a4f"/>
<path d="M420.0 896.7L424.6 901.3L420.0 905.9L415.4 901.3Z" fill="#c47a4f"/>
<path d="M207.4 984.0L212.0 992.1L202.8 992.1Z" fill="#9d5bb5"/>
<path d="M446.0 904.4L450.6 912.5L441.4 912.5Z" fill="#9d5bb5"/>
<path d="M202.1 1000.7L209.3 1000.7" stroke="#e8d000" stroke-width="2.4" fill="none"/>
<path d="M439.8 879.0L447.0 879.0" stroke="#e8d000" stroke-width="2.4" fill="none"/>
<path d="M196.6 1008.2L205.4 1008.2M201.0 1003.8L201.0 1012.6" stroke="#9270c8" stroke-width="1.4" fill="none"/>
<path d="M440.1 952.7L448.9 952.7M444.5 948.3L444.5 957.1" stroke="#9270c8" stroke-width="1.4" fill="none"/>
<path d="M213.4 1006.5L222.2 1006.5M217.8 1002.1L217.8 1010.9" stroke="#e77fc4" stroke-width="1.4" fill="none"/>
<path d="M451.2 924.5L460.0 924.5M455.6 920.1L455.6 928.9" stroke="#e77fc4" stroke-width="1.4" fill="none"/>
<path d="M229.2 1006.5L236.4 1006.5" stroke="#22aaa5" stroke-width="2.4" fill="none"/>
<path d="M468.8 923.0L476.0 923.0" stroke="#22aaa5" stroke-width="2.4" fill="none"/>
<path d="M202.6 1010.9L211.0 1019.3M211.0 1010.9L202.6 1019.3" stroke="#e2413d" stroke-width="1.5" fill="none"/>
<path d="M442.8 904.8L451.2 913.2M451.2 904.8L442.8 913.2" stroke="#e2413d" stroke-width="1.5" fill="none"/>
<path d="M200.1 1019.2L208.9 1026.2M208.9 1019.2L200.1 1026.2M204.5 1018.3L204.5 1027.1" stroke="#2b8fd8" stroke-width="1.6" fill="none"/>
<path d="M437.8 914.6L446.6 921.6M446.6 914.6L437.8 921.6M442.2 913.7L442.2 922.5" stroke="#2b8fd8" stroke-width="1.6" fill="none"/>
<path d="M214.9 1020.9L219.5 1029.0L210.3 1029.0Z" fill="#4a9fdc"/>
<path d="M450.0 905.4L454.6 913.5L445.4 913.5Z" fill="#4a9fdc"/>
<path d="M205.7 1044.7L209.7 1051.7L201.7 1051.7Z" fill="none" stroke="#111111" stroke-width="1.6"/>
<path d="M443.0 959.0L447.0 966.0L439.0 966.0Z" fill="none" stroke="#111111" stroke-width="1.6"/>
<rect x="205.1" y="1060.2" width="5.8" height="5.8" fill="none" stroke="#111111" stroke-width="1.6"/>
<rect x="442.6" y="1026.6" width="5.8" height="5.8" fill="none" stroke="#111111" stroke-width="1.6"/>
<text x="173.8" y="1097.3" class="cat" textLength="32.4" lengthAdjust="spacingAndGlyphs">PRE</text>
<text x="420.2" y="1098.7" class="cat" textLength="45.2" lengthAdjust="spacingAndGlyphs">POST</text>
<text x="265.2" y="1107.5" class="pv" textLength="89" lengthAdjust="spacingAndGlyphs">P &lt; 0.0001</text>
<text transform="translate(30.5,925.7) rotate(-90)" class="ttl" text-anchor="middle">O/E CHL</text>
<rect x="664" y="763.4" width="611.3" height="351.1" fill="#fff" stroke="#e6e6e6" stroke-width="2.4"/>
<line x1="749" y1="1071.0" x2="755" y2="1071.0" stroke="#676767" stroke-width="2"/>
<text x="737" y="1076.6" class="tk" text-anchor="end">0.55</text>
<line x1="751" y1="1046.3" x2="755" y2="1046.3" stroke="#676767" stroke-width="2"/>
<line x1="749" y1="1021.7" x2="755" y2="1021.7" stroke="#676767" stroke-width="2"/>
<text x="737" y="1027.3" class="tk" text-anchor="end">0.65</text>
<line x1="751" y1="997.0" x2="755" y2="997.0" stroke="#676767" stroke-width="2"/>
<line x1="749" y1="972.3" x2="755" y2="972.3" stroke="#676767" stroke-width="2"/>
<text x="737" y="977.9" class="tk" text-anchor="end">0.75</text>
<line x1="751" y1="947.7" x2="755" y2="947.7" stroke="#676767" stroke-width="2"/>
<line x1="749" y1="923.0" x2="755" y2="923.0" stroke="#676767" stroke-width="2"/>
<text x="737" y="928.6" class="tk" text-anchor="end">0.85</text>
<line x1="751" y1="898.3" x2="755" y2="898.3" stroke="#676767" stroke-width="2"/>
<line x1="749" y1="873.7" x2="755" y2="873.7" stroke="#676767" stroke-width="2"/>
<text x="737" y="879.3" class="tk" text-anchor="end">0.95</text>
<line x1="751" y1="849.0" x2="755" y2="849.0" stroke="#676767" stroke-width="2"/>
<line x1="749" y1="824.3" x2="755" y2="824.3" stroke="#676767" stroke-width="2"/>
<text x="737" y="829.9" class="tk" text-anchor="end">1.05</text>
<line x1="751" y1="799.7" x2="755" y2="799.7" stroke="#676767" stroke-width="2"/>
<line x1="749" y1="775.0" x2="755" y2="775.0" stroke="#676767" stroke-width="2"/>
<text x="737" y="780.6" class="tk" text-anchor="end">1.15</text>
<line x1="755" y1="774" x2="755" y2="1077.5" stroke="#676767" stroke-width="2"/>
<line x1="754" y1="1071" x2="1197.5" y2="1071" stroke="#676767" stroke-width="2"/>
<line x1="977.5" y1="1071" x2="977.5" y2="1076.5" stroke="#676767" stroke-width="2"/>
<line x1="1196.5" y1="1071" x2="1196.5" y2="1076.5" stroke="#676767" stroke-width="2"/>
<line x1="866.7" y1="853.1" x2="1088" y2="790.5" stroke="#a9a9a9" stroke-width="2.6"/>
<line x1="873.5" y1="863" x2="1095.4" y2="867.7" stroke="#a9a9a9" stroke-width="2.6"/>
<line x1="867.3" y1="869.9" x2="1089.8" y2="854.7" stroke="#a9a9a9" stroke-width="2.6"/>
<line x1="866.1" y1="886.1" x2="1088.6" y2="776.2" stroke="#a9a9a9" stroke-width="2.6"/>
<line x1="866.7" y1="901" x2="1089.2" y2="829.1" stroke="#a9a9a9" stroke-width="2.6"/>
<line x1="876" y1="906.6" x2="1096.7" y2="860.9" stroke="#a9a9a9" stroke-width="2.6"/>
<line x1="892.2" y1="904.1" x2="1113.5" y2="877.7" stroke="#a9a9a9" stroke-width="2.6"/>
<line x1="890.4" y1="914.1" x2="1112.9" y2="887.7" stroke="#a9a9a9" stroke-width="2.6"/>
<line x1="844.3" y1="952.7" x2="1065.5" y2="937.9" stroke="#a9a9a9" stroke-width="2.6"/>
<line x1="863" y1="953.3" x2="1085.5" y2="814.2" stroke="#a9a9a9" stroke-width="2.6"/>
<line x1="864.5" y1="974.7" x2="1085.5" y2="798.6" stroke="#a9a9a9" stroke-width="2.6"/>
<line x1="860.1" y1="985.9" x2="1083" y2="921.8" stroke="#a9a9a9" stroke-width="2.6"/>
<line x1="870.9" y1="982.5" x2="1092.9" y2="813.6" stroke="#a9a9a9" stroke-width="2.6"/>
<line x1="881.6" y1="982" x2="1102.3" y2="947.9" stroke="#a9a9a9" stroke-width="2.6"/>
<line x1="873.8" y1="989.4" x2="1094.8" y2="834.7" stroke="#a9a9a9" stroke-width="2.6"/>
<line x1="865" y1="997.2" x2="1087.9" y2="994" stroke="#a9a9a9" stroke-width="2.6"/>
<line x1="868" y1="1004" x2="1090.4" y2="960.4" stroke="#a9a9a9" stroke-width="2.6"/>
<line x1="890" y1="1003.5" x2="1112.2" y2="904.9" stroke="#a9a9a9" stroke-width="2.6"/>
<line x1="865" y1="1018.7" x2="1087.3" y2="972.2" stroke="#a9a9a9" stroke-width="2.6"/>
<line x1="866" y1="1040.2" x2="1087.3" y2="871.5" stroke="#a9a9a9" stroke-width="2.6"/>
<line x1="875.8" y1="1047.1" x2="1097.9" y2="952.9" stroke="#a9a9a9" stroke-width="2.6"/>
<line x1="866.5" y1="1051" x2="1088.6" y2="1018.3" stroke="#a9a9a9" stroke-width="2.6"/>
<line x1="866.8" y1="852.5" x2="866.8" y2="904.1" stroke="#000" stroke-width="3"/>
<line x1="866.8" y1="1002.1" x2="866.8" y2="1049.5" stroke="#000" stroke-width="3"/>
<line x1="852.4" y1="852.5" x2="880.3" y2="852.5" stroke="#000" stroke-width="3"/>
<line x1="852.4" y1="1049.5" x2="880.3" y2="1049.5" stroke="#000" stroke-width="3"/>
<rect x="836" y="904.1" width="60.200000000000045" height="98.0" fill="none" stroke="#000" stroke-width="3"/>
<line x1="834.5" y1="978.1" x2="897.7" y2="978.1" stroke="#000" stroke-width="4"/>
<line x1="1088" y1="775.8" x2="1088" y2="827.9" stroke="#000" stroke-width="3"/>
<line x1="1088" y1="949.2" x2="1088" y2="1016.4" stroke="#000" stroke-width="3"/>
<line x1="1074.5" y1="775.8" x2="1101.3" y2="775.8" stroke="#000" stroke-width="3"/>
<line x1="1074.5" y1="1016.4" x2="1101.3" y2="1016.4" stroke="#000" stroke-width="3"/>
<rect x="1056.8" y="827.9" width="61.700000000000045" height="121.30000000000007" fill="none" stroke="#000" stroke-width="3"/>
<line x1="1055.3" y1="875.2" x2="1120.0" y2="875.2" stroke="#000" stroke-width="4"/>
<path d="M866.7 848.5L871.3 856.6L862.1 856.6Z" fill="#9d5bb5"/>
<path d="M1088.0 785.9L1092.6 794.0L1083.4 794.0Z" fill="#9d5bb5"/>
<circle cx="873.5" cy="863.0" r="2.9" fill="none" stroke="#e0383d" stroke-width="1.6"/>
<circle cx="1095.4" cy="867.7" r="2.9" fill="none" stroke="#e0383d" stroke-width="1.6"/>
<rect x="864.4" y="867.0" width="5.8" height="5.8" fill="none" stroke="#111111" stroke-width="1.6"/>
<rect x="1086.9" y="851.8" width="5.8" height="5.8" fill="none" stroke="#111111" stroke-width="1.6"/>
<path d="M861.9 881.9L870.3 890.3M870.3 881.9L861.9 890.3" stroke="#e2413d" stroke-width="1.5" fill="none"/>
<path d="M1084.4 772.0L1092.8 780.4M1092.8 772.0L1084.4 780.4" stroke="#e2413d" stroke-width="1.5" fill="none"/>
<rect x="863.2" y="897.5" width="7.0" height="7.0" fill="#f79646"/>
<rect x="1085.7" y="825.6" width="7.0" height="7.0" fill="#f79646"/>
<path d="M876.0 902.6L880.0 906.6L876.0 910.6L872.0 906.6Z" fill="none" stroke="#2e8b3e" stroke-width="1.6"/>
<path d="M1096.7 856.9L1100.7 860.9L1096.7 864.9L1092.7 860.9Z" fill="none" stroke="#2e8b3e" stroke-width="1.6"/>
<path d="M888.6 904.1L895.8 904.1" stroke="#22aaa5" stroke-width="2.4" fill="none"/>
<path d="M1109.9 877.7L1117.1 877.7" stroke="#22aaa5" stroke-width="2.4" fill="none"/>
<circle cx="890.4" cy="914.1" r="3.6" fill="#c9cf2d"/>
<circle cx="1112.9" cy="887.7" r="3.6" fill="#c9cf2d"/>
<path d="M844.3 948.1L848.9 952.7L844.3 957.3L839.7 952.7Z" fill="#c47a4f"/>
<path d="M1065.5 933.3L1070.1 937.9L1065.5 942.5L1060.9 937.9Z" fill="#c47a4f"/>
<path d="M863.0 949.3L867.0 953.3L863.0 957.3L859.0 953.3Z" fill="none" stroke="#4fae48" stroke-width="1.6"/>
<path d="M1085.5 810.2L1089.5 814.2L1085.5 818.2L1081.5 814.2Z" fill="none" stroke="#4fae48" stroke-width="1.6"/>
<path d="M860.1 971.2L868.9 978.2M868.9 971.2L860.1 978.2M864.5 970.3L864.5 979.1" stroke="#2b8fd8" stroke-width="1.6" fill="none"/>
<path d="M1081.1 795.1L1089.9 802.1M1089.9 795.1L1081.1 802.1M1085.5 794.2L1085.5 803.0" stroke="#2b8fd8" stroke-width="1.6" fill="none"/>
<path d="M855.7 985.9L864.5 985.9M860.1 981.5L860.1 990.3" stroke="#9270c8" stroke-width="1.4" fill="none"/>
<path d="M1078.6 921.8L1087.4 921.8M1083.0 917.4L1083.0 926.2" stroke="#9270c8" stroke-width="1.4" fill="none"/>
<circle cx="870.9" cy="982.5" r="3.6" fill="#f07070"/>
<circle cx="1092.9" cy="813.6" r="3.6" fill="#f07070"/>
<rect x="878.7" y="979.1" width="5.8" height="5.8" fill="none" stroke="#b3826c" stroke-width="1.6"/>
<rect x="1099.4" y="945.0" width="5.8" height="5.8" fill="none" stroke="#b3826c" stroke-width="1.6"/>
<path d="M873.8 984.8L878.4 992.9L869.2 992.9Z" fill="#4a9fdc"/>
<path d="M1094.8 830.1L1099.4 838.2L1090.2 838.2Z" fill="#4a9fdc"/>
<circle cx="865.0" cy="997.2" r="3.6" fill="#f5a444"/>
<circle cx="1087.9" cy="994.0" r="3.6" fill="#f5a444"/>
<rect x="864.5" y="1000.5" width="7.0" height="7.0" fill="#8cc85d"/>
<rect x="1086.9" y="956.9" width="7.0" height="7.0" fill="#8cc85d"/>
<circle cx="890.0" cy="1003.5" r="2.9" fill="none" stroke="#4cbcc6" stroke-width="1.6"/>
<circle cx="1112.2" cy="904.9" r="2.9" fill="none" stroke="#4cbcc6" stroke-width="1.6"/>
<path d="M865.0 1014.7L869.0 1021.7L861.0 1021.7Z" fill="none" stroke="#111111" stroke-width="1.6"/>
<path d="M1087.3 968.2L1091.3 975.2L1083.3 975.2Z" fill="none" stroke="#111111" stroke-width="1.6"/>
<path d="M862.4 1040.2L869.6 1040.2" stroke="#e8d000" stroke-width="2.4" fill="none"/>
<path d="M1083.7 871.5L1090.9 871.5" stroke="#e8d000" stroke-width="2.4" fill="none"/>
<path d="M871.4 1047.1L880.2 1047.1M875.8 1042.7L875.8 1051.5" stroke="#e77fc4" stroke-width="1.4" fill="none"/>
<path d="M1093.5 952.9L1102.3 952.9M1097.9 948.5L1097.9 957.3" stroke="#e77fc4" stroke-width="1.4" fill="none"/>
<path d="M866.5 1047.0L870.5 1054.0L862.5 1054.0Z" fill="none" stroke="#ef8ccb" stroke-width="1.6"/>
<path d="M1088.6 1014.3L1092.6 1021.3L1084.6 1021.3Z" fill="none" stroke="#ef8ccb" stroke-width="1.6"/>
<text x="826.8" y="1096.4" class="cat" textLength="32.4" lengthAdjust="spacingAndGlyphs">PRE</text>
<text x="1058.1" y="1094.5" class="cat" textLength="45.2" lengthAdjust="spacingAndGlyphs">POST</text>
<text x="919.6" y="1100.5" class="pv" textLength="89" lengthAdjust="spacingAndGlyphs">P &lt; 0.0001</text>
<text transform="translate(690.5,922.5) rotate(-90)" class="ttl" text-anchor="middle">O/E CSA</text>
</svg>
</body></html>
